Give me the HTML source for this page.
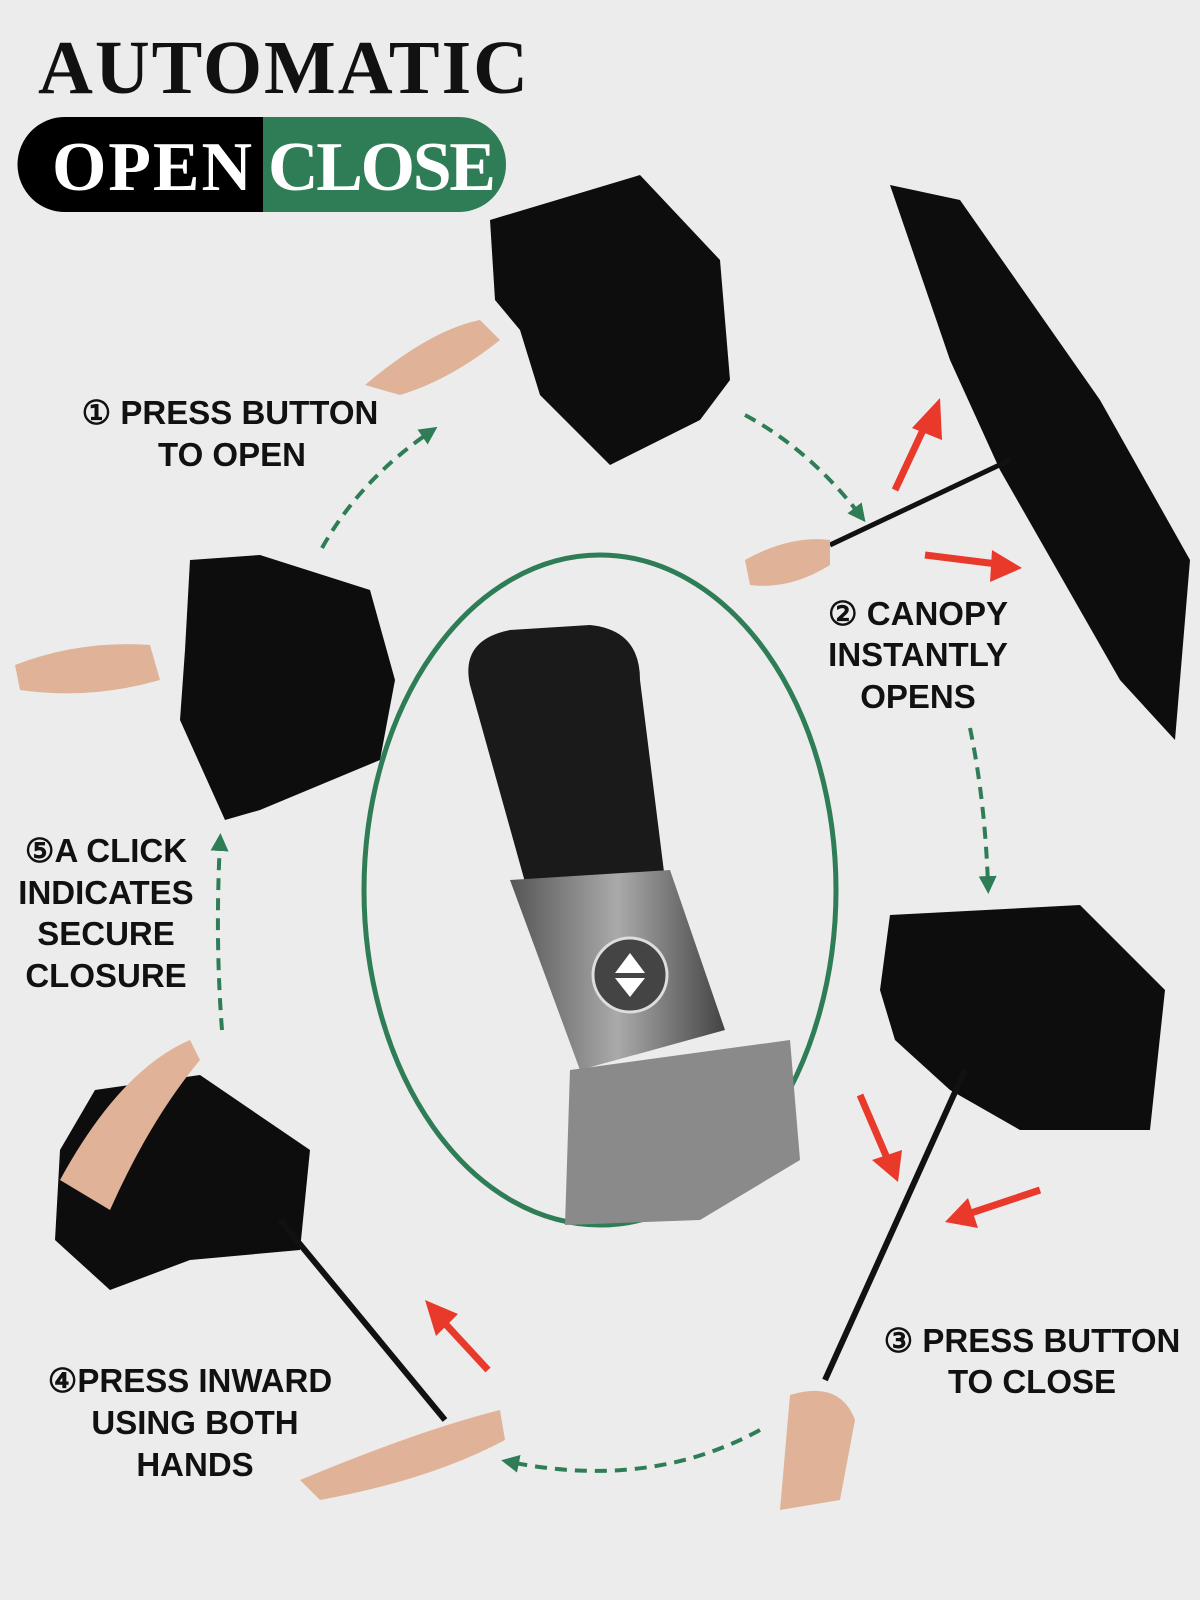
<!DOCTYPE html>
<html><head><style>
html,body{margin:0;padding:0;background:#ececec}
svg{display:block}
.l{font-family:"Liberation Sans",sans-serif;font-weight:bold;font-size:33px;fill:#111;text-anchor:middle}
</style></head><body>
<svg width="1200" height="1600" viewBox="0 0 1200 1600" xmlns="http://www.w3.org/2000/svg">
<defs>
<marker id="g" markerWidth="18" markerHeight="18" refX="9" refY="9" orient="auto" markerUnits="userSpaceOnUse" viewBox="0 0 18 18"><path d="M0,0 L18,9 L0,18z" fill="#2e7d57"/></marker>
<linearGradient id="sil" x1="0" x2="1"><stop offset="0" stop-color="#555"/><stop offset=".5" stop-color="#aaa"/><stop offset="1" stop-color="#444"/></linearGradient>
</defs>
<rect width="1200" height="1600" fill="#ececec"/>
<text x="38" y="93" font-family="Liberation Serif,serif" font-weight="bold" font-size="76" fill="#111" textLength="490">AUTOMATIC</text>
<rect x="18" y="117" width="488" height="95" rx="47" fill="#2e7d57"/>
<path d="M65,117 H263 V212 H65 A47,47 0 0 1 65,117z" fill="#000"/>
<text x="52" y="190" font-family="Liberation Serif,serif" font-weight="bold" font-size="70" fill="#fff" textLength="200">OPEN</text>
<text x="268" y="190" font-family="Liberation Serif,serif" font-weight="bold" font-size="70" fill="#fff" textLength="228">CLOSE</text>

<path d="M490,220 L640,175 L720,260 L730,380 L700,420 L610,465 L540,395 L520,330 L495,300z" fill="#0d0d0d"/>
<path d="M365,385 Q430,330 480,320 L500,340 Q450,380 400,395z" fill="#e0b398"/>
<path d="M890,185 L960,200 L1100,400 L1190,560 L1175,740 L1120,680 L1000,470 L950,360z" fill="#0d0d0d"/>
<line x1="830" y1="545" x2="1010" y2="460" stroke="#111" stroke-width="5"/>
<path d="M745,560 Q790,535 830,540 L830,565 Q790,590 750,585z" fill="#e0b398"/>
<path d="M190,560 L260,555 L370,590 L395,680 L380,760 L260,810 L225,820 L180,720 L185,650z" fill="#0d0d0d"/>
<path d="M15,665 Q80,640 150,645 L160,680 Q90,700 20,690z" fill="#e0b398"/>
<path d="M890,915 L1080,905 L1165,990 L1150,1130 L1020,1130 L950,1090 L895,1040 L880,990z" fill="#0d0d0d"/>
<line x1="965" y1="1070" x2="825" y2="1380" stroke="#111" stroke-width="6"/>
<path d="M790,1395 Q840,1380 855,1420 L840,1500 L780,1510z" fill="#e0b398"/>
<path d="M95,1090 L200,1075 L310,1150 L300,1250 L190,1260 L110,1290 L55,1240 L60,1150z" fill="#0d0d0d"/>
<line x1="280" y1="1220" x2="445" y2="1420" stroke="#111" stroke-width="6"/>
<path d="M300,1480 Q420,1430 500,1410 L505,1440 Q430,1480 320,1500z" fill="#e0b398"/>
<path d="M60,1180 Q120,1070 190,1040 L200,1060 Q150,1120 110,1210z" fill="#e0b398"/>

<g stroke="#e8392b" stroke-width="7" fill="#e8392b">
<line x1="895" y1="490" x2="930" y2="415"/><path d="M940,398 L942,440 L912,428z" stroke="none"/>
<line x1="925" y1="555" x2="1005" y2="565"/><path d="M1022,568 L990,582 L992,550z" stroke="none"/>
<line x1="860" y1="1095" x2="890" y2="1165"/><path d="M898,1182 L872,1160 L902,1150z" stroke="none"/>
<line x1="1040" y1="1190" x2="965" y2="1215"/><path d="M945,1222 L968,1198 L978,1228z" stroke="none"/>
<line x1="488" y1="1370" x2="440" y2="1318"/><path d="M425,1300 L458,1314 L436,1336z" stroke="none"/>
</g>

<g fill="none" stroke="#2e7d57" stroke-width="4" stroke-dasharray="12,8">
<path d="M322,548 Q360,480 430,432" marker-end="url(#g)"/>
<path d="M745,415 Q810,450 860,515" marker-end="url(#g)"/>
<path d="M970,728 Q985,800 988,885" marker-end="url(#g)"/>
<path d="M760,1430 Q650,1490 510,1462" marker-end="url(#g)"/>
<path d="M222,1030 Q215,940 220,842" marker-end="url(#g)"/>
</g>

<ellipse cx="600" cy="890" rx="236" ry="335" fill="none" stroke="#2e7d57" stroke-width="5"/>
<path d="M470,685 Q460,640 510,630 L590,625 Q640,630 640,680 L665,880 L530,900z" fill="#1a1a1a"/>
<path d="M510,880 L670,870 L725,1030 L580,1070z" fill="url(#sil)"/>
<circle cx="630" cy="975" r="37" fill="#444" stroke="#ddd" stroke-width="3"/>
<path d="M630,953 L645,973 L615,973z M630,997 L645,978 L615,978z" fill="#fff"/>
<path d="M570,1070 L790,1040 L800,1160 L700,1220 L565,1225z" fill="#8a8a8a"/>

<text class="l" x="230" y="424">① PRESS BUTTON</text>
<text class="l" x="232" y="466">TO OPEN</text>
<text class="l" x="918" y="625">② CANOPY</text>
<text class="l" x="918" y="666">INSTANTLY</text>
<text class="l" x="918" y="708">OPENS</text>
<text class="l" x="106" y="862">⑤A CLICK</text>
<text class="l" x="106" y="904">INDICATES</text>
<text class="l" x="106" y="945">SECURE</text>
<text class="l" x="106" y="987">CLOSURE</text>
<text class="l" x="1032" y="1352">③ PRESS BUTTON</text>
<text class="l" x="1032" y="1393">TO CLOSE</text>
<text class="l" x="190" y="1392">④PRESS INWARD</text>
<text class="l" x="195" y="1434">USING BOTH</text>
<text class="l" x="195" y="1476">HANDS</text>
</svg>
</body></html>
